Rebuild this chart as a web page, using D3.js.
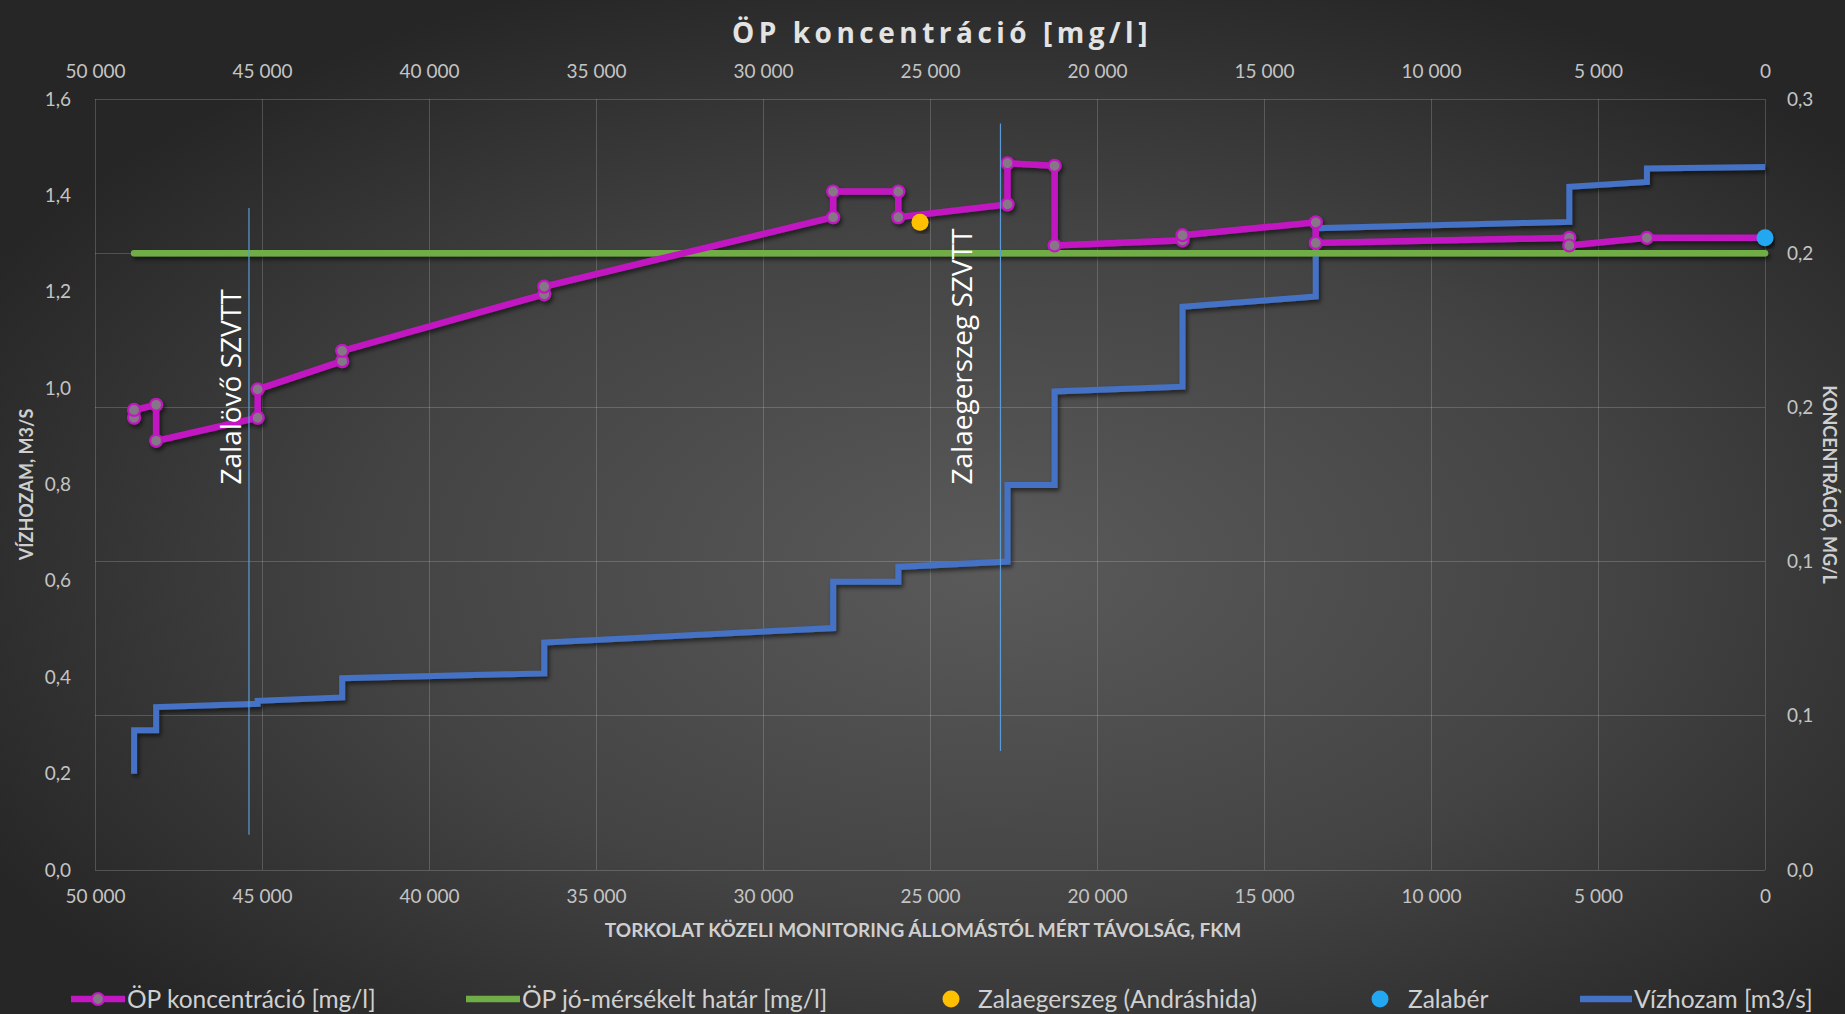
<!DOCTYPE html>
<html lang="hu">
<head>
<meta charset="UTF-8">
<title>ÖP koncentráció [mg/l]</title>
<script src="https://cdn.jsdelivr.net/npm/d3@7"></script>
<style>
  html, body { margin: 0; padding: 0; background: #2b2b2b; }
  svg { display: block; }
  .axis .domain, .axis line { display: none; }
  .axis text { fill: #c4c4c4; font-family: Lato, sans-serif; font-size: 19px; }
  .grid line { stroke: #d9d9d9; stroke-opacity: 0.22; stroke-width: 1px; shape-rendering: crispEdges; }
  .title { fill: #e3e3e3; font-family: "Open Sans", sans-serif; font-weight: 700; font-size: 28px; letter-spacing: 4.5px; }
  .axis-title { fill: #cfcfcf; font-family: Lato, sans-serif; font-weight: 700; font-size: 18px; }
  .x-title { font-size: 19px; }
  .legend text { fill: #d0d0d0; font-family: Lato, sans-serif; font-size: 24.5px; }
  .ref-label { fill: #ffffff; font-family: "Open Sans", sans-serif; font-size: 28px; }
  .series { fill: none; stroke-linejoin: miter; }
</style>
</head>
<body>
<svg id="chart" width="1845" height="1014"></svg>
<script>
// distance from the monitoring station near the mouth (fkm, x axis is reversed)
const opKm   = [48830, 48830, 48170, 48170, 45130, 45130, 42600, 42600, 36550, 36550, 27900, 27900,
                25950, 25950, 22680, 22680, 21270, 21270, 17440, 17440, 13450, 13450, 5860, 5860, 3535, 0];
// ÖP concentration [mg/l]
const opConc = [0.176, 0.179, 0.181, 0.167, 0.176, 0.187, 0.198, 0.202, 0.224, 0.227, 0.254, 0.264,
                0.264, 0.254, 0.259, 0.275, 0.274, 0.243, 0.245, 0.247, 0.252, 0.244, 0.246, 0.243, 0.246, 0.246];

// discharge [m3/s], stepped at the same stations
const flowKm = [48830, 48830, 48170, 48170, 45130, 45130, 42600, 42600, 36550, 36550, 27900, 27900,
                25950, 25950, 22680, 22680, 21270, 21270, 17440, 17440, 13450, 13450, 5860, 5860, 3535, 3535, 0];
const flowQ  = [0.20, 0.29, 0.29, 0.338, 0.345, 0.351, 0.358, 0.398, 0.408, 0.472, 0.502, 0.598,
                0.598, 0.629, 0.640, 0.799, 0.799, 0.993, 1.003, 1.169, 1.190, 1.332, 1.345, 1.418, 1.428, 1.456, 1.459];

// good / moderate boundary
const limitKm   = [48830, 0];
const limitConc = [0.24, 0.24];

// single sampling points
const pointNames = ["Zalaegerszeg (Andráshida)", "Zalabér"];
const pointKm    = [25300, 0];
const pointConc  = [0.252, 0.246];
const pointColor = ["#ffc000", "#22a7f0"];

// wastewater treatment plants (vertical markers, in discharge units)
const refNames  = ["Zalalövő SZVTT", "Zalaegerszeg SZVTT"];
const refKm     = [45390, 22890];
const refTop    = [1.374, 1.549];
const refBottom = [0.073, 0.247];
const refLabelAt = [0.80, 0.80];

// ticks
const kmTicks   = [50000, 45000, 40000, 35000, 30000, 25000, 20000, 15000, 10000, 5000, 0];
const flowTicks = [0, 0.2, 0.4, 0.6, 0.8, 1.0, 1.2, 1.4, 1.6];
const concTicks = [0, 0.06, 0.12, 0.18, 0.24, 0.30];

const legendNames = ["ÖP koncentráció [mg/l]", "ÖP jó-mérsékelt határ [mg/l]",
                     "Zalaegerszeg (Andráshida)", "Zalabér", "Vízhozam [m3/s]"];

const colors = { op: "#c217c2", limit: "#70ad47", flow: "#4472c4", ref: "#5b9bd5" };

const svg = d3.select("#chart"),
      W = +svg.attr("width"), H = +svg.attr("height"),
      margin = { top: 99, right: 80, bottom: 144, left: 95 },
      width  = W - margin.left - margin.right,
      height = H - margin.top - margin.bottom;

const hu = d3.formatLocale({ decimal: ",", thousands: " ", grouping: [3], currency: ["", ""] });
const fmtKm = hu.format(",d"), fmt1 = hu.format(".1f");

// background + shadow
const defs = svg.append("defs");
const grad = defs.append("radialGradient").attr("id", "bg")
  .attr("cx", 0.54).attr("cy", 0.56).attr("r", 0.62);
grad.append("stop").attr("offset", "0%").attr("stop-color", "#5a5a5a");
grad.append("stop").attr("offset", "55%").attr("stop-color", "#434343");
grad.append("stop").attr("offset", "100%").attr("stop-color", "#262626");
defs.append("filter").attr("id", "shadow").attr("x", "-5%").attr("y", "-5%").attr("width", "110%").attr("height", "120%")
  .append("feDropShadow").attr("dx", 2).attr("dy", 3).attr("stdDeviation", 2)
  .attr("flood-color", "#000").attr("flood-opacity", 0.55);

svg.append("rect").attr("width", W).attr("height", H).attr("fill", "url(#bg)");

const g = svg.append("g").attr("transform", `translate(${margin.left},${margin.top})`);

const x  = d3.scaleLinear().domain([50000, 0]).range([0, width]);
const yQ = d3.scaleLinear().domain([0, 1.6]).range([height, 0]);
const yC = d3.scaleLinear().domain([0, 0.3]).range([height, 0]);

// grid
const grid = g.append("g").attr("class", "grid");
grid.selectAll("line.v").data(kmTicks).join("line").attr("class", "v")
  .attr("x1", d => x(d)).attr("x2", d => x(d)).attr("y1", 0).attr("y2", height);
grid.selectAll("line.h").data(concTicks).join("line").attr("class", "h")
  .attr("x1", 0).attr("x2", width).attr("y1", d => yC(d)).attr("y2", d => yC(d));

// axes
g.append("g").attr("class", "axis")
  .call(d3.axisTop(x).tickValues(kmTicks).tickFormat(fmtKm).tickSize(0).tickPadding(21));
g.append("g").attr("class", "axis").attr("transform", `translate(0,${height})`)
  .call(d3.axisBottom(x).tickValues(kmTicks).tickFormat(fmtKm).tickSize(0).tickPadding(20));
g.append("g").attr("class", "axis")
  .call(d3.axisLeft(yQ).tickValues(flowTicks).tickFormat(fmt1).tickSize(0).tickPadding(24));
g.append("g").attr("class", "axis").attr("transform", `translate(${width},0)`)
  .call(d3.axisRight(yC).tickValues(concTicks).tickFormat(fmt1).tickSize(0).tickPadding(22));

// titles
svg.append("text").attr("class", "title").attr("x", 942).attr("y", 43)
  .attr("text-anchor", "middle").text("ÖP koncentráció [mg/l]");
svg.append("text").attr("class", "axis-title x-title").attr("x", margin.left + width / 2 - 7).attr("y", 937)
  .attr("text-anchor", "middle").text("TORKOLAT KÖZELI MONITORING ÁLLOMÁSTÓL MÉRT TÁVOLSÁG, FKM");
svg.append("text").attr("class", "axis-title")
  .attr("transform", `translate(33,${margin.top + height / 2}) rotate(-90)`)
  .attr("text-anchor", "middle").text("VÍZHOZAM, M3/S");
svg.append("text").attr("class", "axis-title")
  .attr("transform", `translate(1823,${margin.top + height / 2}) rotate(90)`)
  .attr("text-anchor", "middle").text("KONCENTRÁCIÓ, MG/L");

// series
const flowData  = flowKm.map((k, i) => ({ km: k, v: flowQ[i] }));
const opData    = opKm.map((k, i) => ({ km: k, v: opConc[i] }));
const limitData = limitKm.map((k, i) => ({ km: k, v: limitConc[i] }));

const lineQ = d3.line().x(d => x(d.km)).y(d => yQ(d.v));
const lineC = d3.line().x(d => x(d.km)).y(d => yC(d.v));

const series = g.append("g").attr("filter", "url(#shadow)");
series.append("path").datum(flowData).attr("class", "series")
  .attr("stroke", colors.flow).attr("stroke-width", 6).attr("d", lineQ);
series.append("path").datum(limitData).attr("class", "series")
  .attr("stroke", colors.limit).attr("stroke-width", 6.5).attr("stroke-linecap", "round").attr("d", lineC);
series.append("path").datum(opData).attr("class", "series")
  .attr("stroke", colors.op).attr("stroke-width", 6.5).attr("d", lineC);
series.selectAll("circle.op").data(opData).join("circle").attr("class", "op")
  .attr("cx", d => x(d.km)).attr("cy", d => yC(d.v)).attr("r", 6)
  .attr("fill", "#857785").attr("stroke", colors.op).attr("stroke-width", 2.2);

// treatment plant markers
refNames.forEach((name, i) => {
  g.append("line")
    .attr("x1", x(refKm[i])).attr("x2", x(refKm[i]))
    .attr("y1", yQ(refTop[i])).attr("y2", yQ(refBottom[i]))
    .attr("stroke", colors.ref).attr("stroke-width", 1.2);
  const dx = i === 0 ? -8 : -28;
  g.append("text").attr("class", "ref-label")
    .attr("transform", `translate(${x(refKm[i]) + dx},${yQ(refLabelAt[i])}) rotate(-90)`)
    .text(name);
});

// sampling points
g.selectAll("circle.pt").data(pointKm).join("circle").attr("class", "pt")
  .attr("cx", d => x(d)).attr("cy", (d, i) => yC(pointConc[i])).attr("r", 8.5)
  .attr("fill", (d, i) => pointColor[i]).attr("filter", "url(#shadow)");

// legend
const lg = svg.append("g").attr("class", "legend").attr("transform", "translate(0,999)");
function legendLine(x1, x2, color, marker) {
  lg.append("line").attr("x1", x1).attr("x2", x2).attr("stroke", color).attr("stroke-width", 6.5);
  if (marker) lg.append("circle").attr("cx", (x1 + x2) / 2).attr("r", 6)
    .attr("fill", "#857785").attr("stroke", color).attr("stroke-width", 2.2);
}
legendLine(71, 125, colors.op, true);
legendLine(466, 520, colors.limit, false);
lg.append("circle").attr("cx", 951).attr("r", 8.5).attr("fill", pointColor[0]);
lg.append("circle").attr("cx", 1380).attr("r", 8.5).attr("fill", pointColor[1]);
legendLine(1580, 1632, colors.flow, false);
const legendX = [127, 522, 978, 1408, 1634];
lg.selectAll("text").data(legendNames).join("text")
  .attr("x", (d, i) => legendX[i]).attr("dy", "0.35em").text(d => d);
</script>
</body>
</html>
